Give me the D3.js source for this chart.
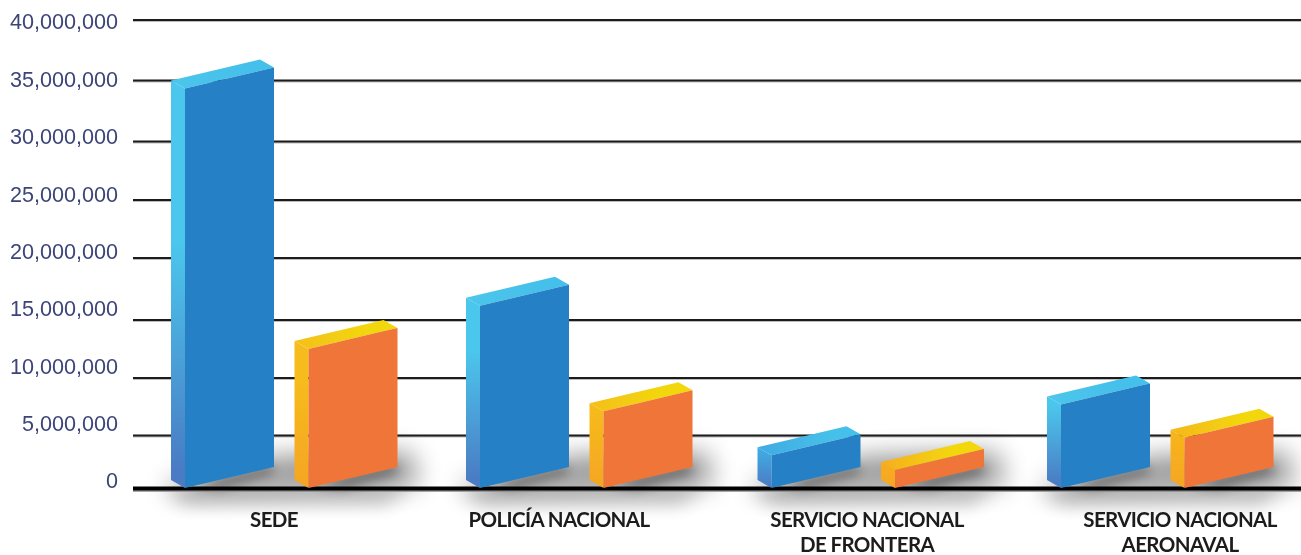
<!DOCTYPE html>
<html>
<head>
<meta charset="utf-8">
<script src="https://cdn.jsdelivr.net/npm/d3@7"></script>
<style>
html,body{margin:0;padding:0;background:#fff;overflow:hidden}
svg{display:block}
</style>
</head>
<body>
<script>
const categories = ["SEDE", "POLICÍA NACIONAL", "SERVICIO NACIONAL|DE FRONTERA", "SERVICIO NACIONAL|AERONAVAL"];
const blueValues = [35000000, 16800000, 3900000, 8400000];
const orangeValues = [13200000, 7800000, 2500000, 5500000];
const tickValues = [0, 5000000, 10000000, 15000000, 20000000, 25000000, 30000000, 35000000, 40000000];

const W = 1301, H = 555;
// gridlines in the picture are not evenly spaced, so the scale is calibrated tick by tick
const y = d3.scaleLinear().domain(tickValues).range([488.5, 435.5, 378, 320, 258, 200, 141.5, 80.5, 20]);
const yLabel = d3.scaleLinear().domain([0, 40000000]).range([481, 22]);
const x = d3.scaleOrdinal().domain(categories).range([171, 466, 757.5, 1047]);
const labelX = d3.scaleOrdinal().domain(categories).range([274, 559, 867, 1180]);
const series = d3.scaleOrdinal().domain(["blue", "orange"]).range([0, 123.5]);

const svg = d3.select("body").append("svg").attr("width", W).attr("height", H);
const defs = svg.append("defs");
const blur = (id, s) => defs.append("filter").attr("id", id)
  .attr("filterUnits", "userSpaceOnUse").attr("x", 0).attr("y", 0).attr("width", W).attr("height", H)
  .append("feGaussianBlur").attr("stdDeviation", s);
blur("soft", 0.6); blur("sh1", 13); blur("sh2", 9); blur("sh3", 6);

const root = svg.append("g").attr("filter", "url(#soft)");

// gridlines
const grid = root.append("g");
tickValues.filter(d => d > 0).forEach(d => {
  grid.append("line").attr("x1", 133).attr("x2", W).attr("y1", y(d) + 1).attr("y2", y(d) + 1)
    .attr("stroke", "#bbb").attr("stroke-width", 2);
  grid.append("line").attr("x1", 133).attr("x2", W).attr("y1", y(d)).attr("y2", y(d))
    .attr("stroke", "#1c1c1c").attr("stroke-width", 2);
});

// axis labels
const axis = d3.axisLeft(yLabel).tickValues(tickValues).tickSize(0).tickPadding(0).tickFormat(d3.format(","));
const ga = root.append("g").attr("transform", "translate(118,0)").call(axis);
ga.select(".domain").remove();
ga.selectAll("text").attr("font-family", "'Liberation Sans'").attr("font-size", 21.6).attr("fill", "#3c4578");

const depthX = 14, depthY = 8, barW = 89, shear = 21, sideBase = 480, frontBase = 488;

// floor shadows
const shadows = root.append("g");
categories.forEach((c, i) => {
  const x0 = x(c);
  shadows.append("path")
    .attr("d", d3.line()([[x0 - 4, 484], [x0 + 110, 456], [x0 + 240, 452], [x0 + 248, 486], [x0 - 4, 492]]) + "Z")
    .attr("fill", "#000").attr("opacity", 0.42).attr("filter", "url(#sh1)");
  shadows.append("path")
    .attr("d", d3.line()([[x0 - 5, 492], [x0 + 235, 492], [x0 + 215, 503], [x0 + 15, 503]]) + "Z")
    .attr("fill", "#000").attr("opacity", 0.3).attr("filter", "url(#sh2)");
  ["blue", "orange"].forEach(s => {
    const l = x0 + series(s);
    shadows.append("path")
      .attr("d", d3.line()([[l + 20, 486], [l + 100, 466], [l + 104, 472], [l + 50, 488]]) + "Z")
      .attr("fill", "#000").attr("opacity", 0.5).attr("filter", "url(#sh3)");
  });
});

// baseline
root.append("line").attr("x1", 133).attr("x2", W).attr("y1", y(0) + 2.5).attr("y2", y(0) + 2.5).attr("stroke", "#888").attr("stroke-width", 1.5);
root.append("line").attr("x1", 133).attr("x2", W).attr("y1", y(0)).attr("y2", y(0)).attr("stroke", "#000").attr("stroke-width", 4);

const palette = {
  blue:   { front: "#2680c5", sideTopTall: "#4cc6ec", sideTopShort: "#3a96dd", sideBottom: "#4a7cc4", topLeftTall: "#4cc6ec", topLeftShort: "#3a96dd", topRight: "#45c0ea" },
  orange: { front: "#ef7537", sideTopTall: "#f6bb1c", sideTopShort: "#f8a81f", sideBottom: "#f5a623", topLeftTall: "#f5bf17", topLeftShort: "#f8a81f", topRight: "#f2d70f" }
};

function grad(id, x1, y1, x2, y2, stops) {
  const g = defs.append("linearGradient").attr("id", id)
    .attr("x1", x1).attr("y1", y1).attr("x2", x2).attr("y2", y2);
  stops.forEach(s => g.append("stop").attr("offset", s[0]).attr("stop-color", s[1]));
}

function drawBar(name, values) {
  const p = palette[name];
  const g = root.append("g").attr("class", "bars-" + name);
  categories.forEach((c, i) => {
    const left = x(c) + series(name);
    const top = y(values[i]);
    const h = sideBase - top;
    const t = Math.min(1, h / 80);
    const sideTop = d3.interpolateRgb(p.sideTopShort, p.sideTopTall)(t);
    const topLeft = d3.interpolateRgb(p.topLeftShort, p.topLeftTall)(t);
    const idS = `side-${name}-${i}`, idT = `top-${name}-${i}`;
    grad(idS, 0, 0, 0, 1, [[h > 250 ? 0.4 : h > 120 ? 0.28 : 0.1, sideTop], [0.95, p.sideBottom]]);
    grad(idT, 0, 0, 1, 0, [[0, topLeft], [0.7, p.topRight]]);
    const line = d3.line();
    g.append("path").attr("fill", `url(#${idS})`)
      .attr("d", line([[left, top], [left + depthX, top + depthY], [left + depthX, frontBase], [left, sideBase]]) + "Z");
    g.append("path").attr("fill", `url(#${idT})`)
      .attr("d", line([[left, top], [left + barW, top - shear], [left + depthX + barW, top + depthY - shear], [left + depthX, top + depthY]]) + "Z");
    g.append("path").attr("fill", p.front)
      .attr("d", line([[left + depthX, top + depthY], [left + depthX + barW, top + depthY - shear], [left + depthX + barW, frontBase - shear], [left + depthX, frontBase]]) + "Z");
  });
}
drawBar("blue", blueValues);
drawBar("orange", orangeValues);

// category labels
const lab = root.append("g");
categories.forEach(c => {
  c.split("|").forEach((t, j) => {
    lab.append("text").text(t)
      .attr("x", labelX(c)).attr("y", 527 + j * 25)
      .attr("text-anchor", "middle")
      .attr("font-family", "Lato").attr("font-weight", 700).attr("font-size", 20.5)
      .attr("letter-spacing", -0.6).attr("fill", "#1a1a1a");
  });
});
</script>
</body>
</html>
